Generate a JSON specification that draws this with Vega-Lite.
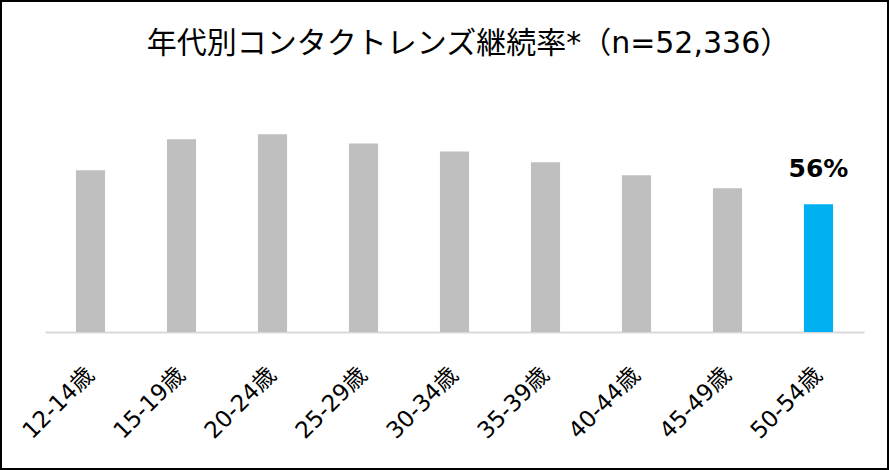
{
  "$schema": "https://vega.github.io/schema/vega-lite/v6.json",
  "width": 889,
  "height": 470,
  "autosize": {"type": "none"},
  "padding": 0,
  "background": "white",
  "config": {
    "view": {"stroke": "black", "strokeWidth": 4},
    "font": "DejaVu Sans, Noto Sans CJK JP"
  },
  "title": {
    "text": "年代別コンタクトレンズ継続率*（n=52,336）",
    "frame": "group",
    "anchor": "middle",
    "orient": "top",
    "baseline": "top",
    "offset": -59,
    "dx": 24,
    "fontSize": 30,
    "fontWeight": "normal",
    "color": "#000000"
  },
  "data": {
    "values": [
      {"age": "12-14歳", "rate": 0.709},
      {"age": "15-19歳", "rate": 0.845},
      {"age": "20-24歳", "rate": 0.867},
      {"age": "25-29歳", "rate": 0.827},
      {"age": "30-34歳", "rate": 0.792},
      {"age": "35-39歳", "rate": 0.744},
      {"age": "40-44歳", "rate": 0.687},
      {"age": "45-49歳", "rate": 0.63},
      {"age": "50-54歳", "rate": 0.56}
    ]
  },
  "encoding": {
    "x": {
      "field": "age",
      "type": "nominal",
      "sort": null,
      "scale": {"range": [45, 864], "paddingInner": 0.68, "paddingOuter": 0.34},
      "axis": {
        "orient": "bottom",
        "offset": -138,
        "title": null,
        "labelAngle": -45,
        "labelAlign": "right",
        "labelBaseline": "middle",
        "labelFontSize": 23,
        "labelColor": "#000000",
        "labelPadding": 39,
        "ticks": false,
        "grid": false,
        "domainColor": "#D9D9D9",
        "domainWidth": 2
      }
    },
    "y": {
      "field": "rate",
      "type": "quantitative",
      "scale": {"domain": [0, 1], "range": [332, 104]},
      "axis": null
    }
  },
  "layer": [
    {
      "mark": {"type": "bar"},
      "encoding": {
        "color": {
          "condition": {"test": "datum.age === '50-54歳'", "value": "#00B0F0"},
          "value": "#BFBFBF"
        }
      }
    },
    {
      "transform": [{"filter": "datum.age === '50-54歳'"}],
      "mark": {"type": "text", "baseline": "alphabetic", "dy": -27, "fontSize": 25, "fontWeight": "bold", "color": "#000000"},
      "encoding": {
        "text": {"field": "rate", "type": "quantitative", "format": ".0%"}
      }
    }
  ]
}
